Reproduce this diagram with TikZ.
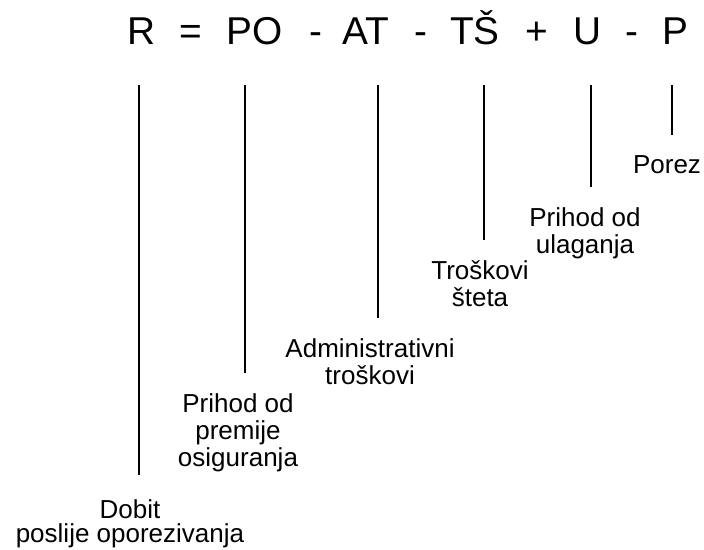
\documentclass[tikz,border=0pt]{standalone}
\usepackage{fontspec}
\setmainfont{Liberation Sans}

\begin{document}
\begin{tikzpicture}[thick,
  sym/.style={anchor=base, inner sep=0pt, font=\fontsize{27.6}{31}\selectfont},
  lbl/.style={anchor=north, align=center, inner sep=0pt, font=\fontsize{18.5}{19.2}\selectfont},
  vline/.style={line width=0.8pt, shorten >=0.5cm}]

\useasboundingbox (0,0) rectangle (17.6,13.725);

% Formula
\node [sym] (symR) at (3.54,12.625) {R};
\node [sym] (symEq) at (4.775,12.625) {=};
\node [sym] (symPO) at (6.375,12.625) {PO};
\node [sym] (symMa) at (7.89,12.625) {-};
\node [sym] (symAT) at (9.15,12.625) {AT};
\node [sym] (symMb) at (10.525,12.625) {-};
\node [sym] (symTS) at (11.875,12.625) {TŠ};
\node [sym] (symPl) at (13.425,12.625) {+};
\node [sym] (symU) at (14.69,12.625) {U};
\node [sym] (symMc) at (15.8,12.625) {-};
\node [sym] (symP) at (16.875,12.625) {P};

% Upper ends of the lines
\coordinate (topR) at (3.475,11.6);
\coordinate (topPO) at (6.125,11.6);
\coordinate (topAT) at (9.45,11.6);
\coordinate (topTS) at (12.1,11.6);
\coordinate (topU) at (14.775,11.6);
\coordinate (topP) at (16.8,11.6);

% Meanings
\node [lbl] (dobit) at (3.25,1.25) {Dobit\\[-0.07cm]poslije oporezivanja};
\node [lbl] (premija) at (5.95,3.9) {Prihod od\\premije\\osiguranja};
\node [lbl] (admin) at (9.25,5.275) {Administrativni\\troškovi};
\node [lbl] (steta) at (12.0,7.225) {Troškovi\\šteta};
\node [lbl] (ulaganje) at (14.625,8.55) {Prihod od\\ulaganja};
\node [lbl] (porez) at (16.675,9.85) {Porez};

% Lines
\draw [vline, shorten >=0.6cm] (topR) -- (topR |- dobit.north);
\draw [vline] (topPO) -- (topPO |- premija.north);
\draw [vline] (topAT) -- (topAT |- admin.north);
\draw [vline] (topTS) -- (topTS |- steta.north);
\draw [vline] (topU) -- (topU |- ulaganje.north);
\draw [vline] (topP) -- (topP |- porez.north);

\end{tikzpicture}
\end{document}
